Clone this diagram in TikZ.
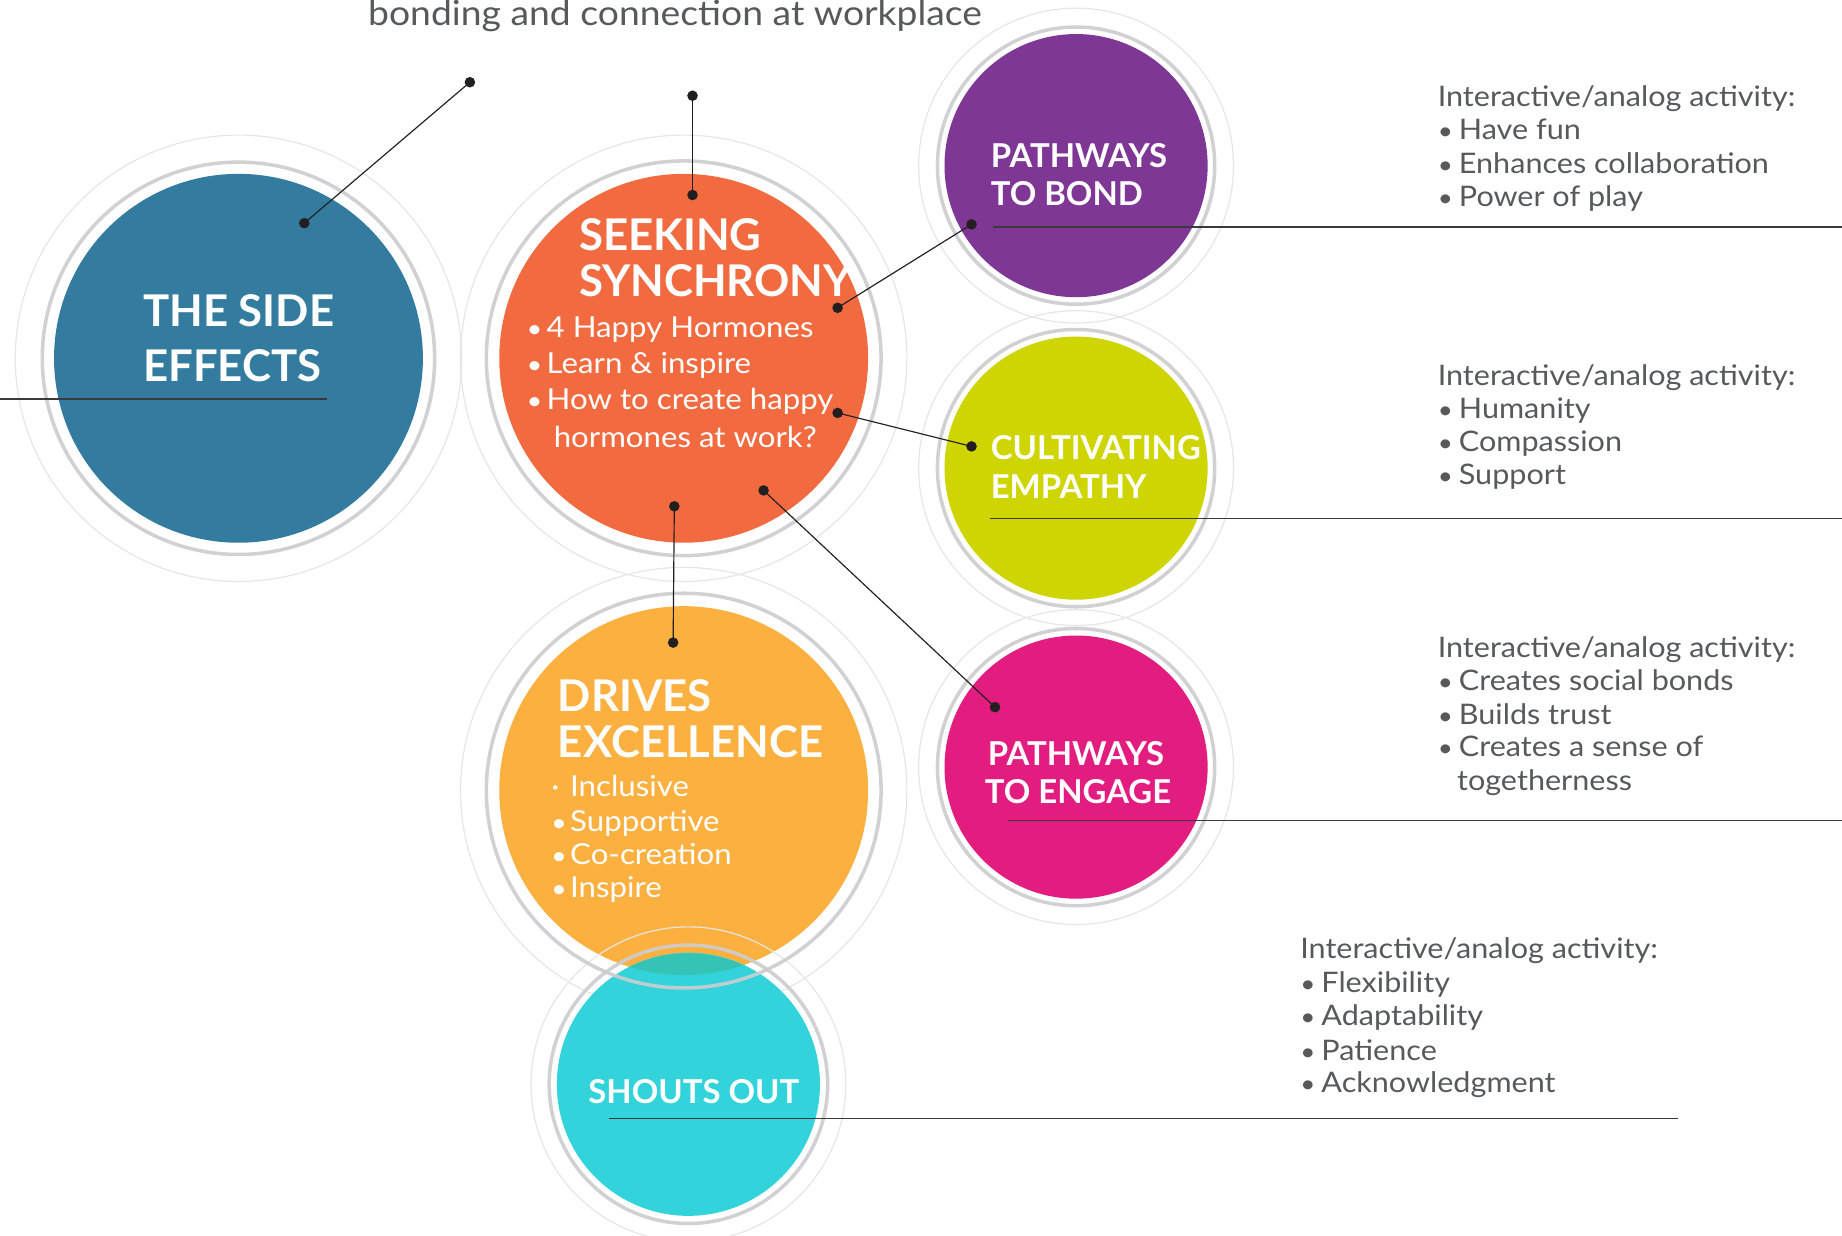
\documentclass[tikz,border=0pt]{standalone}
\usepackage{fontspec}
\setmainfont{Lato}
\newfontfamily\bodyf{Lato}[FakeStretch=1.08]
\definecolor{cblue}{HTML}{337C9F}
\definecolor{corange}{HTML}{F26B40}
\definecolor{cpurple}{HTML}{7F3796}
\definecolor{clime}{HTML}{CED500}
\definecolor{cpink}{HTML}{E31D80}
\definecolor{camber}{HTML}{FBB040}
\definecolor{ccyan}{HTML}{33D3DC}
\definecolor{cteal}{HTML}{34C3B5}
\definecolor{tgray}{HTML}{58595B}
\definecolor{ringgray}{HTML}{CDCDCF}
\definecolor{ringlight}{HTML}{E6E6E6}
\definecolor{dotc}{HTML}{231F20}
\definecolor{linec}{HTML}{3A3A3C}
\newcommand{\bul}[1]{\makebox[#1][l]{\scalebox{0.85}{•}}}
\begin{document}
\begin{tikzpicture}[x=0.5pt,y=-0.5pt,
  bigc/.style={circle,inner sep=0pt,minimum size=157pt},
  smallc/.style={circle,inner sep=0pt,minimum size=112pt},
  ring/.style={draw=ringgray,line width=1.5pt,draw opacity=0.9},
  outring/.style={draw=ringlight,line width=0.5pt},
  conn/.style={draw=dotc,line width=0.5pt},
  hline/.style={draw=linec,line width=0.7pt},
  dotmark/.style={fill=dotc},
  txt/.style={anchor=base west,inner sep=0pt,text=tgray,font=\bodyf\fontsize{12.05}{14}\selectfont},
  wtxt/.style={anchor=base west,inner sep=0pt,text=white,font=\bodyf\fontsize{12.3}{14}\selectfont},
  headL/.style={anchor=base west,inner sep=0pt,text=white,font=\bfseries\fontsize{18.6}{20}\selectfont},
  headS/.style={anchor=base west,inner sep=0pt,text=white,font=\bfseries\fontsize{14}{16}\selectfont},
  ttl/.style={anchor=base west,inner sep=0pt,text=tgray,font=\bodyf\fontsize{14.7}{16}\selectfont}]
\useasboundingbox[fill=white] (0,0) rectangle (1568,1052);

% outer thin rings
\draw[outring] (203,305) circle[radius=190];
\draw[outring] (582,305) circle[radius=190];
\draw[outring] (582,673) circle[radius=190];
\draw[outring] (916,141) circle[radius=134];
\draw[outring] (916,398.5) circle[radius=134];
\draw[outring] (916,653) circle[radius=134];

% fills
\node[bigc,fill=cblue] (side) at (203,305) {};
\node[bigc,fill=corange] (seek) at (582,305) {};
\node[bigc,fill=camber] (drive) at (582,673) {};
\node[smallc,fill=cpurple] (bond) at (916,141) {};
\node[smallc,fill=clime] (emp) at (916,398.5) {};
\node[smallc,fill=cpink] (eng) at (916,653) {};
\node[smallc,fill=ccyan] (shout) at (586,923) {};
\begin{scope}
  \clip (drive.center) circle[radius=157];
  \fill[cteal] (shout.center) circle[radius=111.5];
\end{scope}
\draw[outring] (shout.center) circle[radius=134];

% gray rings
\draw[ring] (side.center) circle[radius=167];
\draw[ring] (seek.center) circle[radius=168];
\draw[ring] (drive.center) circle[radius=168];
\draw[ring] (bond.center) circle[radius=118];
\draw[ring] (emp.center) circle[radius=118];
\draw[ring] (eng.center) circle[radius=118];
\draw[ring] (shout.center) circle[radius=118.5];

% title
\node[ttl] (title) at (313,21.5) {bonding and connection at workplace};

% horizontal lines
\coordinate (hl0a) at (0,339.5);   \coordinate (hl0b) at (278,339.5);
\coordinate (hl1a) at (845,193);   \coordinate (hl1b) at (1568,193);
\coordinate (hl2a) at (843,441.4); \coordinate (hl2b) at (1568,441.4);
\coordinate (hl3a) at (858,698.5); \coordinate (hl3b) at (1568,698.5);
\coordinate (hl4a) at (518,952);   \coordinate (hl4b) at (1428,952);
\draw[hline] (hl0a) -- (hl0b);
\draw[hline] (hl1a) -- (hl1b);
\draw[hline] (hl2a) -- (hl2b);
\draw[hline] (hl3a) -- (hl3b);
\draw[hline] (hl4a) -- (hl4b);

% connectors
\coordinate (p1) at (259,190);   \coordinate (q1) at (400,70);
\coordinate (p2) at (589.5,166); \coordinate (q2) at (589.5,81.5);
\coordinate (p3) at (713,262);   \coordinate (q3) at (827,191);
\coordinate (p4) at (713,351.5); \coordinate (q4) at (827,380);
\coordinate (p5) at (650,417.5); \coordinate (q5) at (847,602);
\coordinate (p6) at (574,431);   \coordinate (q6) at (573,547);
\foreach \a/\b in {p1/q1,p2/q2,p3/q3,p4/q4,p5/q5,p6/q6}{
  \draw[conn] (\a) -- (\b);
  \fill[dotmark] (\a) circle[radius=4.5];
  \fill[dotmark] (\b) circle[radius=4.5];
}

% circle headings
\node[headL] (t1a) at (121.5,278) {THE SIDE};
\node[headL] (t1b) at (121.5,325) {EFFECTS};
\node[headL] (t2a) at (492.5,213) {SEEKING};
\node[headL] (t2b) at (492.5,252) {SYNCHRONY};
\node[wtxt] (s1) at (448,287) {\bul{8.5pt}4 Happy Hormones};
\node[wtxt] (s2) at (448,318) {\bul{8.5pt}Learn \& inspire};
\node[wtxt] (s3) at (448,349) {\bul{8.5pt}How to create happy};
\node[wtxt] (s4) at (471,381) {hormones at work?};
\node[headL] (t3a) at (474.5,605.5) {DRIVES};
\node[headL] (t3b) at (474.5,645) {EXCELLENCE};
\node[wtxt] (d1) at (469,678) {\makebox[8pt][l]{·}Inclusive};
\node[wtxt] (d2) at (469,707.4) {\bul{8pt}Supportive};
\node[wtxt] (d3) at (469,736) {\bul{8pt}Co-creation};
\node[wtxt] (d4) at (469,764) {\bul{8pt}Inspire};
\node[headS] (t4a) at (843,142.5) {PATHWAYS};
\node[headS] (t4b) at (843,175) {TO BOND};
\node[headS] (t5a) at (843,391) {CULTIVATING};
\node[headS] (t5b) at (843,424) {EMPATHY};
\node[headS] (t6a) at (840.5,651.5) {PATHWAYS};
\node[headS] (t6b) at (838,684) {TO ENGAGE};
\node[headS] (t7) at (500.5,939.7) {SHOUTS OUT};

% right-hand texts
\node[txt] (r1) at (1223.5,91) {Interactive/analog activity:};
\node[txt] (r1a) at (1223.5,119) {\bul{9pt}Have fun};
\node[txt] (r1b) at (1223.5,147.6) {\bul{9pt}Enhances collaboration};
\node[txt] (r1c) at (1223.5,176) {\bul{9pt}Power of play};

\node[txt] (r2) at (1223.5,328) {Interactive/analog activity:};
\node[txt] (r2a) at (1223.5,356) {\bul{9pt}Humanity};
\node[txt] (r2b) at (1223.5,384) {\bul{9pt}Compassion};
\node[txt] (r2c) at (1223.5,412.5) {\bul{9pt}Support};

\node[txt] (r3) at (1223.5,560) {Interactive/analog activity:};
\node[txt] (r3a) at (1223.5,587.5) {\bul{9pt}Creates social bonds};
\node[txt] (r3b) at (1223.5,616.5) {\bul{9pt}Builds trust};
\node[txt] (r3c) at (1223.5,643.8) {\bul{9pt}Creates a sense of};
\node[txt] (r3d) at (1240,673) {togetherness};

\node[txt] (r4) at (1106.5,816) {Interactive/analog activity:};
\node[txt] (r4a) at (1106.5,845) {\bul{9pt}Flexibility};
\node[txt] (r4b) at (1106.5,873) {\bul{9pt}Adaptability};
\node[txt] (r4c) at (1106.5,902.4) {\bul{9pt}Patience};
\node[txt] (r4d) at (1106.5,930.3) {\bul{9pt}Acknowledgment};
\end{tikzpicture}
\end{document}
